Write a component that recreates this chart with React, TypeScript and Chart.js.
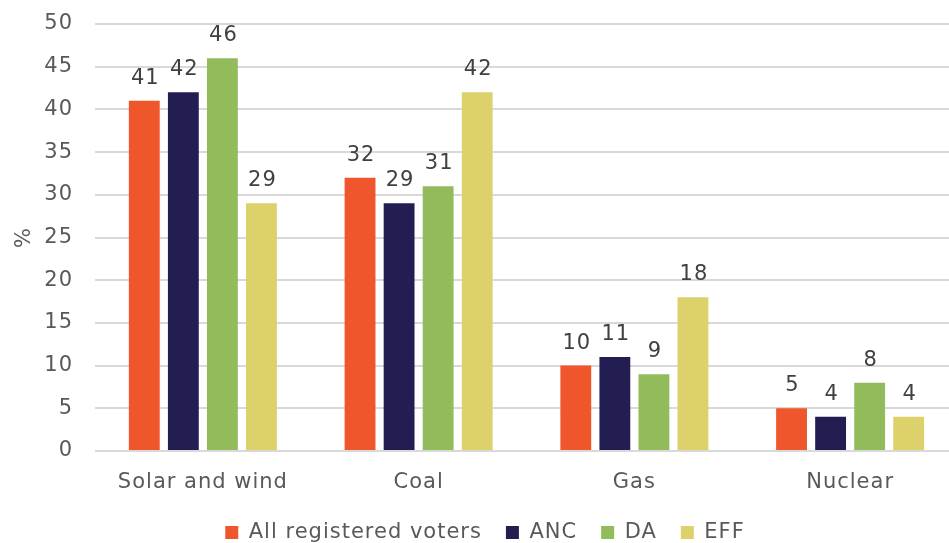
import React, { useEffect, useRef } from "react";
import { Chart, registerables } from "chart.js";

Chart.register(...registerables);

const categories = ["Solar and wind", "Coal", "Gas", "Nuclear"];
const seriesNames = ["All registered voters", "ANC", "DA", "EFF"];
const allVoters = [41, 32, 10, 5];
const anc = [42, 29, 11, 4];
const da = [46, 31, 9, 8];
const eff = [29, 42, 18, 4];
const seriesColors = ["#F0562B", "#221E52", "#92BB5C", "#DDD16B"];
const yTicks = [0, 5, 10, 15, 20, 25, 30, 35, 40, 45, 50];

const FONT = "'DejaVu Sans', sans-serif";
const SIZE = 21;
const TEXT = "#595959";

// Wider letter spacing for a rounder, more open look
const spacing = {
  id: "spacing",
  beforeUpdate(chart: any) {
    chart.ctx.letterSpacing = "1px";
  },
  beforeDraw(chart: any) {
    chart.ctx.letterSpacing = "1px";
  },
};

// Writes each bar's value just above it
const valueLabels = {
  id: "valueLabels",
  afterDatasetsDraw(chart: any) {
    const ctx = chart.ctx;
    ctx.save();
    ctx.font = `${SIZE}px ${FONT}`;
    ctx.fillStyle = "#404040";
    ctx.textAlign = "center";
    ctx.textBaseline = "bottom";
    chart.data.datasets.forEach((ds: any, i: number) => {
      const meta = chart.getDatasetMeta(i);
      meta.data.forEach((bar: any, j: number) => {
        ctx.fillText(String(ds.data[j]), bar.x + 1, bar.y - 12);
      });
    });
    ctx.restore();
  },
};

export default function App() {
  const ref = useRef<HTMLCanvasElement | null>(null);

  useEffect(() => {
    document.body.style.margin = "0";
    document.body.style.overflow = "hidden";
    const values = [allVoters, anc, da, eff];
    const chart = new Chart(ref.current!, {
      type: "bar",
      data: {
        labels: categories,
        datasets: seriesNames.map((name, i) => ({
          label: name,
          data: values[i],
          backgroundColor: seriesColors[i],
          categoryPercentage: 0.724,
          barPercentage: 0.79,
        })),
      },
      options: {
        animation: false,
        responsive: false,
        layout: { padding: { left: 12, top: 24, right: 0, bottom: 0 } },
        plugins: {
          legend: {
            position: "bottom",
            labels: {
              font: { family: FONT, size: SIZE },
              color: TEXT,
              boxWidth: 13,
              boxHeight: 13,
              padding: 24,
            },
          },
          tooltip: { enabled: false },
        },
        scales: {
          x: {
            grid: { display: false },
            border: { display: false },
            ticks: { font: { family: FONT, size: SIZE }, color: TEXT, padding: 11 },
            afterFit: (s: any) => {
              s.height = 47;
            },
          },
          y: {
            min: 0,
            max: 50,
            afterBuildTicks: (s: any) => {
              s.ticks = yTicks.map((v) => ({ value: v }));
            },
            afterFit: (s: any) => {
              s.width = 83;
              s.paddingTop = 0;
              s.paddingBottom = 0;
            },
            grid: { color: "#D9D9D9", lineWidth: 2, drawTicks: false },
            border: { display: false },
            ticks: { font: { family: FONT, size: SIZE }, color: TEXT, padding: 22 },
            title: {
              display: true,
              text: "%",
              font: { family: FONT, size: SIZE },
              color: TEXT,
              padding: 0,
            },
          },
        },
      },
      plugins: [spacing, valueLabels],
    });
    return () => chart.destroy();
  }, []);

  return (
    <div style={{ position: "absolute", left: 0, top: 0, width: 958, height: 553 }}>
      <canvas ref={ref} width={958} height={553} />
    </div>
  );
}
